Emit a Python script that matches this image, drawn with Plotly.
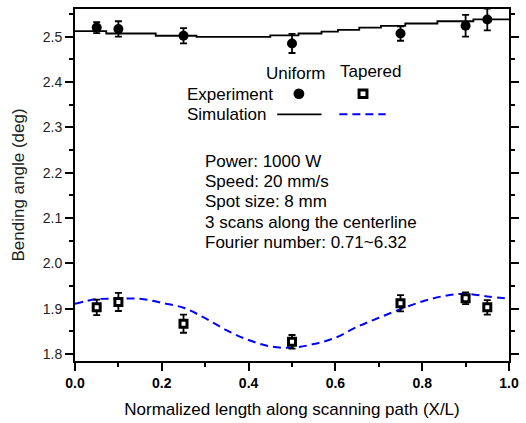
import plotly.graph_objects as go

# ---------------- data ----------------
exp_x = [0.05, 0.10, 0.25, 0.50, 0.75, 0.90, 0.95]
uniform_exp = [2.520, 2.517, 2.502, 2.485, 2.507, 2.524, 2.538]
uniform_err = [0.012, 0.017, 0.017, 0.021, 0.016, 0.024, 0.024]
tapered_exp = [1.903, 1.915, 1.867, 1.827, 1.912, 1.923, 1.903]
tapered_err = [0.017, 0.020, 0.020, 0.015, 0.018, 0.013, 0.016]

uni_sim_x = [0.0, 0.072, 0.186, 0.28, 0.45, 0.515, 0.568, 0.606, 0.655, 0.705, 0.761, 0.835, 0.918, 1.0]
uni_sim_y = [2.512, 2.507, 2.502, 2.4995, 2.503, 2.507, 2.511, 2.515, 2.520, 2.524, 2.529, 2.534, 2.538, 2.538]

tap_sim_x = [0.0, 0.05, 0.10, 0.15, 0.20, 0.25, 0.30, 0.35, 0.40, 0.45, 0.50,
             0.55, 0.60, 0.65, 0.70, 0.75, 0.80, 0.85, 0.90, 0.95, 1.00]
tap_sim_y = [1.911, 1.921, 1.922, 1.922, 1.913, 1.902, 1.879, 1.852, 1.831, 1.817, 1.814,
             1.822, 1.836, 1.860, 1.880, 1.899, 1.916, 1.928, 1.933, 1.927, 1.922]

info_lines = ["Power: 1000 W", "Speed: 20 mm/s", "Spot size: 8 mm",
              "3 scans along the centerline", "Fourier number: 0.71~6.32"]

FONT = "Liberation Sans, Arial, sans-serif"

fig = go.Figure()
fig.add_trace(go.Scatter(x=uni_sim_x, y=uni_sim_y, mode="lines", line_shape="hv",
                         line=dict(color="black", width=1.8), showlegend=False))
fig.add_trace(go.Scatter(x=tap_sim_x, y=tap_sim_y, mode="lines", line_shape="spline",
                         line=dict(color="#0000ff", width=2, dash="8px,5px"), showlegend=False))
fig.add_trace(go.Scatter(x=exp_x, y=uniform_exp, mode="markers",
                         marker=dict(symbol="circle", size=10, color="black"),
                         error_y=dict(type="data", array=uniform_err, color="black",
                                      thickness=1.8, width=3.5),
                         showlegend=False))
fig.add_trace(go.Scatter(x=exp_x, y=tapered_exp, mode="markers",
                         marker=dict(symbol="square", size=7, color="white",
                                     line=dict(color="black", width=3)),
                         error_y=dict(type="data", array=tapered_err, color="black",
                                      thickness=1.8, width=3.5),
                         showlegend=False))

L, R, T, B = 75, 515, 7, 363
W, H = 526, 423


def px(x):
    return (x - L) / (R - L)


def py(y):
    return (B - y) / (B - T)


ann = []
for i, s in enumerate(info_lines):
    ann.append(dict(x=px(205), y=py(161 + 20.5 * i), xref="paper", yref="paper",
                    xanchor="left", yanchor="middle", text=s, showarrow=False,
                    font=dict(family=FONT, size=17, color="black")))
ann.append(dict(x=px(299), y=py(72), xref="paper", yref="paper", text="Uniform",
                showarrow=False, xanchor="center", yanchor="middle",
                font=dict(family=FONT, size=17, color="black")))
ann.append(dict(x=px(375), y=py(70), xref="paper", yref="paper", text="Tapered",
                showarrow=False, xanchor="center", yanchor="middle",
                font=dict(family=FONT, size=17, color="black")))
ann.append(dict(x=px(278), y=py(93), xref="paper", yref="paper", text="Experiment",
                showarrow=False, xanchor="right", yanchor="middle",
                font=dict(family=FONT, size=17, color="black")))
ann.append(dict(x=px(271), y=py(114), xref="paper", yref="paper", text="Simulation",
                showarrow=False, xanchor="right", yanchor="middle",
                font=dict(family=FONT, size=17, color="black")))

shapes = [
    dict(type="circle", xref="paper", yref="paper", x0=px(296.5), x1=px(307.5),
         y0=py(98), y1=py(87.5), fillcolor="black", line=dict(color="black", width=0)),
    dict(type="rect", xref="paper", yref="paper", x0=px(363), x1=px(371),
         y0=py(96.5), y1=py(89), fillcolor="white", line=dict(color="black", width=3)),
    dict(type="line", xref="paper", yref="paper", x0=px(280), x1=px(325),
         y0=py(113.5), y1=py(113.5), line=dict(color="black", width=1.8)),
    dict(type="line", xref="paper", yref="paper", x0=px(343), x1=px(390),
         y0=py(113.5), y1=py(113.5), line=dict(color="#0000ff", width=2, dash="8px,5px")),
]

fig.update_layout(
    width=W, height=H,
    margin=dict(l=L, r=W - R, t=T, b=H - B),
    paper_bgcolor="white", plot_bgcolor="white",
    annotations=ann, shapes=shapes,
    font=dict(family=FONT, color="black"),
)
fig.update_xaxes(
    range=[0, 1], tickmode="array", tickvals=[0, 0.2, 0.4, 0.6, 0.8, 1.0],
    ticktext=["<b>0.0</b>", "<b>0.2</b>", "<b>0.4</b>", "<b>0.6</b>", "<b>0.8</b>", "<b>1.0</b>"],
    ticks="outside", ticklen=8, tickwidth=1.8, tickcolor="black",
    minor=dict(dtick=0.1, tick0=0, ticks="outside", ticklen=4, tickwidth=1.8, tickcolor="black"),
    showline=True, linewidth=2, linecolor="black", mirror=True, showgrid=False, zeroline=False,
    tickfont=dict(family=FONT, size=14, color="black"),
    title=dict(text="Normalized length along scanning path (X/L)", standoff=13,
               font=dict(family=FONT, size=17, color="black")),
)
fig.update_yaxes(
    range=[1.7847, 2.561], tickmode="array",
    tickvals=[1.8, 1.9, 2.0, 2.1, 2.2, 2.3, 2.4, 2.5],
    ticktext=["1.8", "1.9", "2.0", "2.1", "2.2", "2.3", "2.4", "2.5"],
    ticks="outside", ticklen=8, tickwidth=1.8, tickcolor="black",
    minor=dict(tickvals=[1.85, 1.95, 2.05, 2.15, 2.25, 2.35, 2.45, 2.55],
               ticks="outside", ticklen=4, tickwidth=1.8, tickcolor="black"),
    showline=True, linewidth=2, linecolor="black", mirror="allticks", showgrid=False,
    zeroline=False,
    tickfont=dict(family=FONT, size=14, color="#222"),
    title=dict(text="Bending angle (deg)", standoff=14,
               font=dict(family=FONT, size=17, color="#222")),
)

fig.write_html("out.html")
